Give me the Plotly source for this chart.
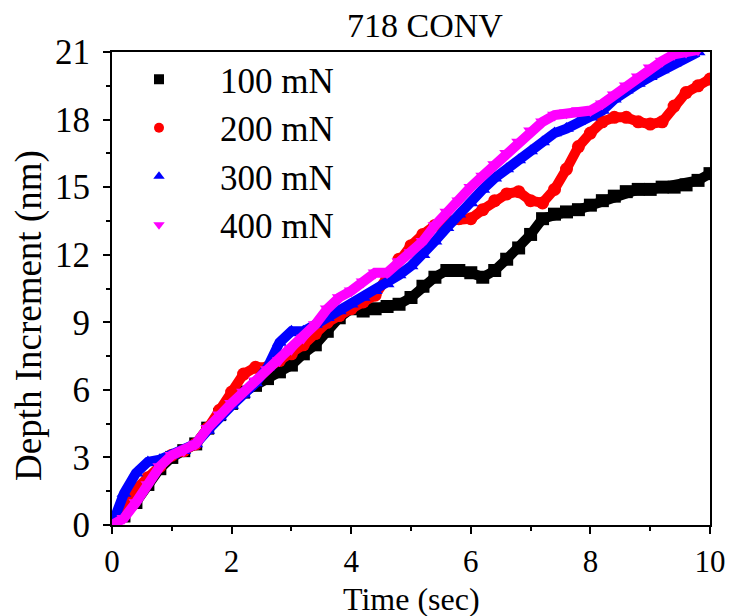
import plotly.graph_objects as go

time = [0.0, 0.2, 0.4, 0.6, 0.8, 1.0, 1.2, 1.4, 1.6, 1.8, 2.0, 2.2, 2.4, 2.6, 2.8, 3.0,
        3.2, 3.4, 3.6, 3.8, 4.0, 4.2, 4.4, 4.6, 4.8, 5.0, 5.2, 5.4, 5.6, 5.8, 6.0,
        6.2, 6.4, 6.6, 6.8, 7.0, 7.2, 7.4, 7.6, 7.8, 8.0, 8.2, 8.4, 8.6, 8.8, 9.0,
        9.2, 9.4, 9.6, 9.8, 10.0]

depth_100 = [0.0, 0.4, 1.0, 1.8, 2.5, 3.0, 3.3, 3.6, 4.3, 4.9, 5.4, 5.9, 6.2, 6.5, 6.8, 7.1,
             7.6, 8.0, 8.6, 9.2, 9.6, 9.5, 9.6, 9.7, 9.8, 10.1, 10.6, 11.0, 11.3, 11.3, 11.2,
             11.0, 11.3, 11.8, 12.3, 12.9, 13.6, 13.8, 13.9, 14.0, 14.2, 14.4, 14.6, 14.8, 14.9, 14.9,
             15.0, 15.0, 15.1, 15.3, 15.6]
depth_200 = [0.0, 0.8, 1.6, 2.1, 2.6, 3.1, 3.3, 3.6, 4.3, 5.1, 5.9, 6.7, 7.0, 7.0, 7.3, 7.6,
             8.0, 8.5, 9.0, 9.3, 9.6, 9.9, 10.2, 11.0, 11.8, 12.4, 12.9, 13.3, 13.5, 13.6, 13.6,
             14.0, 14.4, 14.7, 14.8, 14.4, 14.3, 14.9, 15.8, 16.8, 17.4, 17.9, 18.1, 18.1, 17.9, 17.8,
             17.9, 18.6, 19.2, 19.5, 19.8]
depth_300 = [0.0, 1.4, 2.3, 2.8, 2.9, 3.1, 3.3, 3.6, 4.2, 4.8, 5.3, 5.8, 6.3, 7.0, 8.1, 8.6,
             8.6, 8.9, 9.2, 9.5, 9.8, 10.1, 10.4, 10.7, 11.1, 11.5, 12.0, 12.6, 13.2, 13.8, 14.3,
             14.9, 15.4, 15.8, 16.2, 16.6, 17.0, 17.4, 17.6, 17.9, 18.1, 18.4, 18.9, 19.3, 19.6, 19.9,
             20.2, 20.5, 20.8, 21.0]
depth_400 = [0.0, 0.3, 1.0, 1.8, 2.6, 3.1, 3.3, 3.6, 4.3, 4.9, 5.4, 5.9, 6.4, 6.9, 7.3, 7.8,
             8.3, 8.9, 9.6, 10.1, 10.4, 10.8, 11.2, 11.2, 11.7, 12.1, 12.6, 13.3, 13.9, 14.4, 15.0,
             15.5, 16.0, 16.5, 17.0, 17.5, 17.9, 18.2, 18.3, 18.4, 18.4, 18.7, 19.1, 19.5, 19.9, 20.3,
             20.6, 20.9, 21.0, 21.1]

series_names = ["100 mN", "200 mN", "300 mN", "400 mN"]
series_values = [depth_100, depth_200, depth_300, depth_400]
colors = ["#000000", "#ff0000", "#0000ff", "#ff00ff"]
symbols = ["square", "circle", "triangle-up", "triangle-down"]

x_ticks = [0, 2, 4, 6, 8, 10]
y_ticks = [0, 3, 6, 9, 12, 15, 18, 21]

title_text = "718 CONV"
x_title = "Time (sec)"
y_title = "Depth Increment (nm)"

FONT = "Liberation Serif, Times New Roman, serif"

# The page body has an 8px default margin; the figure is sized to fit the window.
OFF = 8
W, H = 734 - OFF, 616 - OFF
ML, MR, MT, MB = 112 - OFF, 24, 52 - OFF, 91
PW = W - ML - MR
PH = H - MT - MB


def px_to_paper_x(px):
    return (px - OFF - ML) / PW


def px_to_paper_y(py):
    return (H - MB - (py - OFF)) / PH


fig = go.Figure()
for name, vals, col, sym in zip(series_names, series_values, colors, symbols):
    fig.add_trace(go.Scatter(
        x=time[:len(vals)], y=vals, mode="lines+markers", name=name,
        line=dict(color=col, width=10),
        marker=dict(color=col, symbol=sym, size=13),
        showlegend=False,
    ))
for name, col, sym in zip(series_names, colors, symbols):
    fig.add_trace(go.Scatter(
        x=[None], y=[None], mode="markers", name=name,
        marker=dict(color=col, symbol=sym, size=10),
        showlegend=True,
    ))

axis_common = dict(
    showline=True, linecolor="black", linewidth=2, mirror=True,
    ticks="outside", ticklen=7, tickwidth=2, tickcolor="black",
    showgrid=False, zeroline=False, automargin=False,
)

fig.update_layout(
    width=W, height=H,
    margin=dict(l=ML, r=MR, t=MT, b=MB),
    paper_bgcolor="white", plot_bgcolor="white",
    font=dict(family=FONT, color="black"),
    xaxis=dict(range=[0, 10], tickvals=x_ticks, ticklabelstandoff=1,
               tickfont=dict(family=FONT, size=31, color="black"),
               minor=dict(ticks="outside", ticklen=4, tickwidth=2, tickcolor="black", dtick=1),
               **axis_common),
    yaxis=dict(range=[0, 21], tickvals=y_ticks, ticklabelstandoff=6,
               tickfont=dict(family=FONT, size=35, color="black"),
               minor=dict(ticks="outside", ticklen=4, tickwidth=2, tickcolor="black", dtick=1.5),
               **axis_common),
    legend=dict(x=px_to_paper_x(98), y=px_to_paper_y(50), xanchor="left", yanchor="top",
                font=dict(family=FONT, size=35, color="black"),
                bgcolor="rgba(0,0,0,0)", itemwidth=112, tracegroupgap=0),
    annotations=[
        dict(text=title_text, x=px_to_paper_x(425), y=px_to_paper_y(25),
             xref="paper", yref="paper", xanchor="center", yanchor="middle",
             showarrow=False, font=dict(family=FONT, size=34, color="black")),
        dict(text=x_title, x=px_to_paper_x(411), y=px_to_paper_y(599),
             xref="paper", yref="paper", xanchor="center", yanchor="middle",
             showarrow=False, font=dict(family=FONT, size=32, color="black")),
        dict(text=y_title, x=px_to_paper_x(29), y=px_to_paper_y(316),
             xref="paper", yref="paper", xanchor="center", yanchor="middle",
             showarrow=False, textangle=-90,
             font=dict(family=FONT, size=37, color="black")),
    ],
)

fig.write_html("out.html")
